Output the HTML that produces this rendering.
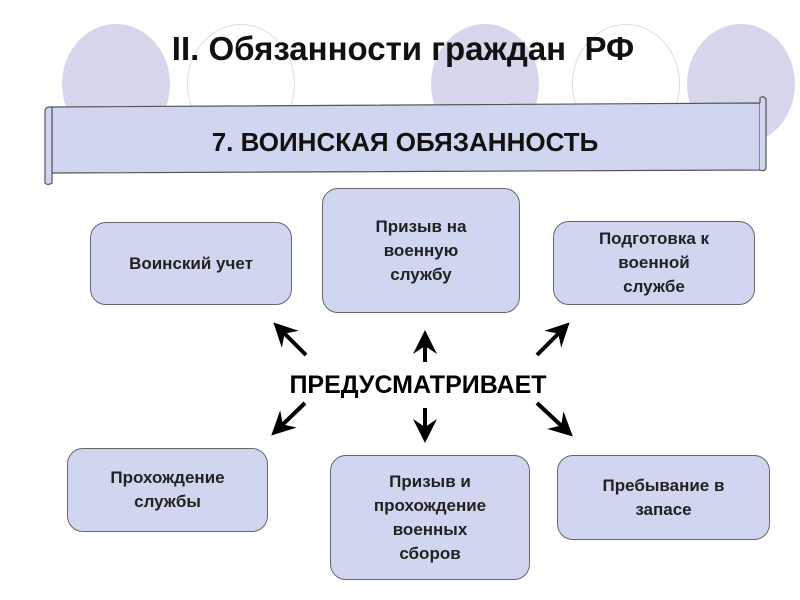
<!DOCTYPE html>
<html><head><meta charset="utf-8"><style>
body{margin:0;width:800px;height:600px;background:#fff;position:relative;overflow:hidden;font-family:"Liberation Sans",Arial,sans-serif}
.c{position:absolute;width:108px;height:120px;border-radius:50%;top:24px}
.f{background:#d6d6ec}
.o{border:1px solid #ddd;box-sizing:border-box}
.t{position:absolute;left:0;width:806px;text-align:center;top:30px;font-size:33px;font-weight:bold;color:#111}
.b{position:absolute;background:#d0d6f0;border:1.5px solid #666;border-radius:16px;display:flex;align-items:center;justify-content:center;text-align:center;font-weight:bold;font-size:17px;line-height:24px;color:#222;box-sizing:border-box}
</style></head><body>
<div class="c f" style="left:62px"></div>
<div class="c o" style="left:187px"></div>
<div class="c f" style="left:431px"></div>
<div class="c o" style="left:572px"></div>
<div class="c f" style="left:687px"></div>
<div class="t">II. Обязанности граждан&nbsp; РФ</div>
<svg style="position:absolute;left:0;top:0" width="800" height="600">
<path d="M52,107 L760,103 L760,170 L52,173 Z" fill="#d0d6f0" stroke="#555" stroke-width="1.2"/>
<path d="M52,107 L52,183 Q48,186 45,183 L45,112 Q45,106 52,107 Z" fill="#d0d6f0" stroke="#555" stroke-width="1.2"/>
<path d="M760,103 L760,98 Q763,95 766,99 L766,168 Q765,172 760,170" fill="#d0d6f0" stroke="#555" stroke-width="1.2"/>
<text x="405" y="151" text-anchor="middle" font-size="26" font-weight="bold" font-family="Liberation Sans,sans-serif" fill="#111">7. ВОИНСКАЯ ОБЯЗАННОСТЬ</text>
<text x="418" y="393" text-anchor="middle" font-size="25" font-weight="bold" font-family="Liberation Sans,sans-serif" fill="#000">ПРЕДУСМАТРИВАЕТ</text>
<defs><marker id="a" markerWidth="6" markerHeight="6" refX="4" refY="3" orient="auto"><path d="M0,0 L6,3 L0,6 L2,3 Z" fill="#000"/></marker></defs>
<g stroke="#000" stroke-width="4" marker-end="url(#a)">
<line x1="306" y1="355" x2="279" y2="328"/>
<line x1="425" y1="362" x2="425" y2="338"/>
<line x1="537" y1="355" x2="564" y2="328"/>
<line x1="305" y1="403" x2="277" y2="430"/>
<line x1="425" y1="408" x2="425" y2="435"/>
<line x1="537" y1="403" x2="567" y2="431"/>
</g>
</svg>
<div class="b" style="left:90px;top:222px;width:202px;height:83px">Воинский учет</div>
<div class="b" style="left:322px;top:188px;width:198px;height:125px">Призыв на<br>военную<br>службу</div>
<div class="b" style="left:553px;top:221px;width:202px;height:84px">Подготовка к<br>военной<br>службе</div>
<div class="b" style="left:67px;top:448px;width:201px;height:84px">Прохождение<br>службы</div>
<div class="b" style="left:330px;top:455px;width:200px;height:125px">Призыв и<br>прохождение<br>военных<br>сборов</div>
<div class="b" style="left:557px;top:455px;width:213px;height:85px">Пребывание в<br>запасе</div>
</body></html>
